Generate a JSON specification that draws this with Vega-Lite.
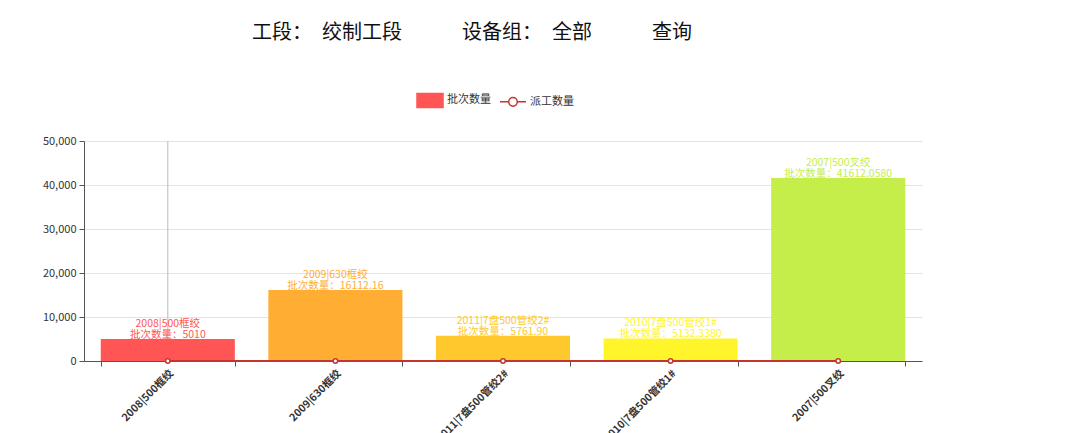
{
  "$schema": "https://vega.github.io/schema/vega-lite/v6.json",
  "autosize": "none",
  "width": 838,
  "height": 220,
  "padding": {"left": 84, "top": 141, "right": 158, "bottom": 72},
  "background": "#ffffff",
  "title": {
    "text": "工段：　绞制工段　　　设备组：　全部　　　查询",
    "frame": "group",
    "anchor": "middle",
    "offset": 43,
    "dx": -31,
    "fontSize": 20,
    "fontWeight": "normal",
    "font": "Noto Sans CJK SC",
    "color": "#111111"
  },
  "config": {
    "view": {"stroke": null},
    "font": "Noto Sans CJK SC",
    "numberFormat": ",.0f"
  },
  "data": {
    "values": [
      {"name": "2008|500框绞", "batch": 5010, "dispatch": 1, "label": "2008|500框绞\n批次数量：5010"},
      {"name": "2009|630框绞", "batch": 16112.16, "dispatch": 1, "label": "2009|630框绞\n批次数量：16112.16"},
      {"name": "2011|7盘500管绞2#", "batch": 5761.9, "dispatch": 1, "label": "2011|7盘500管绞2#\n批次数量：5761.90"},
      {"name": "2010|7盘500管绞1#", "batch": 5132.338, "dispatch": 1, "label": "2010|7盘500管绞1#\n批次数量：5132.3380"},
      {"name": "2007|500叉绞", "batch": 41612.058, "dispatch": 1, "label": "2007|500叉绞\n批次数量：41612.0580"}
    ]
  },
  "encoding": {
    "x": {
      "field": "name",
      "type": "nominal",
      "sort": null,
      "scale": {"paddingInner": 0.2, "paddingOuter": 0.1},
      "axis": {
        "title": null,
        "labelAngle": -45,
        "labelFontSize": 10.5,
        "labelFontWeight": "bold",
        "labelColor": "#333333",
        "labelPadding": 2,
        "tickBand": "extent",
        "tickColor": "#555555",
        "tickSize": 5,
        "domainColor": "#555555",
        "grid": false
      }
    }
  },
  "layer": [
    {
      "mark": {"type": "rule", "color": "#bbbbbb", "strokeWidth": 1},
      "transform": [{"filter": "datum.name === '2008|500框绞'"}],
      "encoding": {}
    },
    {
      "mark": {"type": "bar"},
      "encoding": {
        "y": {
          "field": "batch",
          "type": "quantitative",
          "scale": {"domain": [0, 50000], "nice": false},
          "axis": {
            "title": null,
            "values": [0, 10000, 20000, 30000, 40000, 50000],
            "format": ",.0f",
            "labelFontSize": 11,
            "labelColor": "#333333",
            "labelPadding": 3,
            "tickSize": 5,
            "tickColor": "#555555",
            "domainColor": "#555555",
            "gridColor": "#e3e3e3"
          }
        },
        "fill": {
          "field": "name",
          "type": "nominal",
          "sort": null,
          "scale": {
            "domain": ["2008|500框绞", "2009|630框绞", "2011|7盘500管绞2#", "2010|7盘500管绞1#", "2007|500叉绞"],
            "range": ["#ff5555", "#ffad33", "#ffc82c", "#fff52a", "#c5ee4a"]
          },
          "legend": null
        }
      }
    },
    {
      "mark": {"type": "text", "baseline": "bottom", "align": "center", "dy": -10, "fontSize": 10.5, "lineHeight": 11, "lineBreak": "\n"},
      "encoding": {
        "y": {"field": "batch", "type": "quantitative"},
        "text": {"field": "label", "type": "nominal"},
        "fill": {"field": "name", "type": "nominal", "sort": null, "legend": null}
      }
    },
    {
      "mark": {"type": "line", "strokeWidth": 2, "point": {"filled": true, "fill": "#ffffff", "stroke": "#c23531", "strokeWidth": 1.5, "size": 20}},
      "encoding": {
        "y": {"field": "dispatch", "type": "quantitative"},
        "color": {
          "datum": "派工数量",
          "type": "nominal",
          "scale": {"domain": ["批次数量", "派工数量"], "range": ["#ff5555", "#c23531"]},
          "legend": {
            "title": null,
            "orient": "none",
            "legendX": 332,
            "legendY": -55,
            "direction": "horizontal",
            "columns": 2,
            "columnPadding": 6,
            "labelOffset": 3,
            "labelFontSize": 11,
            "labelColor": "#333333",
            "symbolSize": 676,
            "symbolStrokeWidth": 1.5,
            "values": ["批次数量", "派工数量"],
            "encode": {
              "symbols": {
                "update": {
                  "shape": {"signal": "datum.value === '批次数量' ? 'M-1,-0.54H1V0.54H-1Z' : 'M-1,0H-0.33M0.33,0H1M0.33,0A0.33,0.33,0,1,1,-0.33,0A0.33,0.33,0,1,1,0.33,0'"},
                  "fill": {"signal": "datum.value === '批次数量' ? '#ff5555' : '#ffffff'"},
                  "fillOpacity": {"signal": "datum.value === '批次数量' ? 1 : 0"},
                  "stroke": {"signal": "datum.value === '批次数量' ? '#ff5555' : '#d9707a'"},
                  "opacity": {"value": 1}
                }
              }
            }
          }
        }
      }
    }
  ]
}
